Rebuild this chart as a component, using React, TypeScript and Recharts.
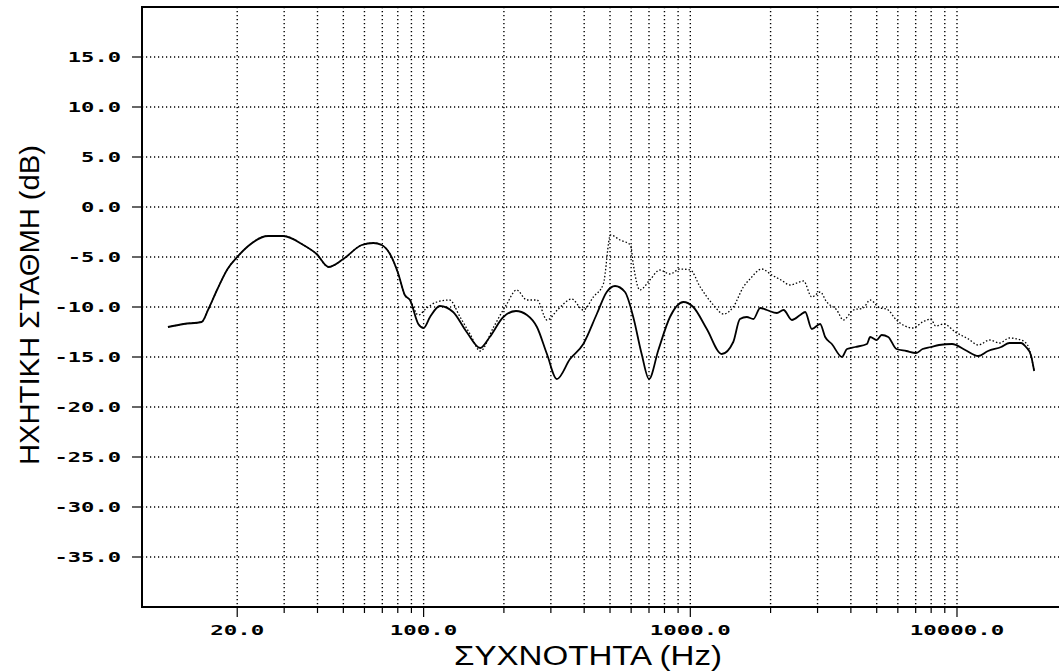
import { LineChart, Line, XAxis, YAxis, CartesianGrid, ReferenceArea } from "recharts";

// frequency response readings (Hz, dB)
const solidFreq = [
  11, 12.6, 14.7, 15.6, 16.8, 18.4, 20, 22, 26.1, 29.8, 35.4, 39.7, 44, 50, 58.6, 64.8, 69.6, 74.8,
  80.4, 85, 88.9, 95.5, 100, 105.7, 115, 129, 145, 163, 177, 199, 222, 244, 266, 290, 316, 354, 397,
  446, 486, 522, 569, 611, 657, 700, 759, 839, 942, 1026, 1153, 1312, 1449, 1535, 1628, 1724, 1828,
  1936, 2112, 2236, 2405, 2583, 2696, 2855, 3068, 3204, 3394, 3705, 3868, 4154, 4595, 4726, 4999,
  5218, 5523, 5928, 6455, 7026, 7432, 7976, 8566, 9587, 10735, 12020, 13076, 14640, 15727, 17381,
  18140, 18921, 19470,
];
const solidDb = [
  -12.0, -11.7, -11.5, -10.2, -8.3, -6.2, -5.0, -3.9, -2.9, -2.9, -3.8, -4.7, -6.0, -5.2, -3.8, -3.6, -3.8, -4.7,
  -6.7, -8.8, -9.3, -11.7, -12.1, -11.0, -9.9, -10.5, -12.5, -14.1, -13.0, -11.0, -10.4, -10.8, -12.0, -14.7, -17.2, -15.2, -13.7,
  -10.7, -8.5, -7.9, -8.5, -11.0, -14.7, -17.2, -14.3, -11.0, -9.5, -10.0, -12.2, -14.7, -13.5, -11.2, -11.0, -11.2, -10.1,
  -10.3, -10.6, -10.3, -11.3, -10.8, -10.5, -12.2, -11.7, -13.0, -13.7, -15.0, -14.2, -14.0, -13.7, -13.0, -13.3,
  -12.8, -13.0, -14.2, -14.4, -14.6, -14.2, -14.0, -13.8, -13.7, -14.3, -14.9, -14.4, -14.0, -13.6, -13.6,
  -14.0, -14.8, -16.4,
];

const dottedFreq = [
  11, 12.6, 14.7, 15.6, 16.8, 18.4, 20, 22, 26.1, 29.8, 35.4, 39.7, 44, 50, 58.6, 64.8, 69.6, 74.8,
  80.4, 85, 88.9, 95.5, 102.7, 112, 125, 137, 150, 163, 183, 205, 223, 244, 266, 290, 320, 359, 397,
  433, 472, 502, 545, 597, 611, 647, 705, 768, 839, 913, 1000, 1089, 1221, 1333, 1449, 1581, 1674,
  1855, 2020, 2188, 2368, 2658, 2855, 3068, 3247, 3541, 3749, 4087, 4452, 4726, 5139, 5450, 5928,
  6828, 7432, 7976, 8324, 8939, 9852, 11040, 12020, 13270, 14430, 15727, 17381, 18390, 18921, 19470,
];
const dottedDb = [
  -12.0, -11.7, -11.5, -10.2, -8.3, -6.2, -5.0, -3.9, -2.9, -2.9, -3.8, -4.7, -6.0, -5.2, -3.8, -3.6, -3.8, -4.7,
  -6.7, -8.8, -9.3, -10.8, -10.1, -9.5, -9.3, -11.0, -12.8, -14.4, -12.0, -9.7, -8.3, -9.3, -9.3, -11.3, -10.2, -9.2, -10.3,
  -9.0, -7.7, -2.8, -3.3, -3.8, -5.7, -8.3, -7.3, -6.3, -6.7, -6.2, -6.3, -8.0, -9.8, -10.7, -10.0, -8.0, -7.2,
  -6.2, -6.8, -7.3, -7.8, -7.4, -9.0, -8.5, -9.5, -10.3, -11.3, -10.3, -10.1, -9.3, -10.1, -10.2, -11.3,
  -12.1, -11.5, -11.2, -11.9, -11.7, -12.5, -13.2, -13.8, -13.3, -13.6, -13.1, -13.3, -13.8, -14.8, -16.4,
];

const xTicks = [
  20, 30, 40, 50, 60, 70, 80, 90, 100, 200, 300, 400, 500, 600, 700, 800, 900, 1000,
  2000, 3000, 4000, 5000, 6000, 7000, 8000, 9000, 10000,
];
const xLabels = [20, 100, 1000, 10000];
const yTicks = [15, 10, 5, 0, -5, -10, -15, -20, -25, -30, -35];

const xDomain = [8.79, 24760];
const yDomain = [-40, 20];

const solidData = solidFreq.map((f, i) => ({ f, db: solidDb[i] }));
const dottedData = dottedFreq.map((f, i) => ({ f, db: dottedDb[i] }));

const tickFont = {
  fontFamily: "'DejaVu Sans Mono', monospace",
  fontWeight: 700,
  fontSize: 14,
};

function XTick({ x, y, payload }: any) {
  const v = payload.value;
  const major = xLabels.includes(v);
  const label = v.toFixed(1);
  return (
    <g>
      <line x1={x} x2={x} y1={y} y2={y + (major ? 10 : 6)} stroke="#000" strokeWidth={1.2} />
      {major && (
        <text
          x={x}
          y={y + 28}
          textAnchor="middle"
          fill="#000"
          {...tickFont}
          textLength={label.length * 13.5}
          lengthAdjust="spacingAndGlyphs"
        >
          {label}
        </text>
      )}
    </g>
  );
}

function YTick({ x, y, payload }: any) {
  const label = payload.value.toFixed(1);
  return (
    <g>
      <line x1={x - 10} x2={x} y1={y} y2={y} stroke="#000" strokeWidth={1.2} />
      <text
        x={x - 21}
        y={y + 5}
        textAnchor="end"
        fill="#000"
        {...tickFont}
        textLength={label.length * 13.3}
        lengthAdjust="spacingAndGlyphs"
      >
        {label}
      </text>
    </g>
  );
}

export default function App() {
  return (
    <div
      style={{
        position: "fixed",
        left: 0,
        top: 0,
        width: 1059,
        height: 671,
        overflow: "hidden",
        background: "#fff",
      }}
    >
      <LineChart width={1075} height={671} margin={{ top: 7, right: 13, bottom: 0, left: 0 }}>
        <CartesianGrid stroke="#000" strokeWidth={1.4} strokeDasharray="1.2 2.8" />
        <XAxis
          dataKey="f"
          type="number"
          scale="log"
          domain={xDomain}
          allowDataOverflow
          ticks={xTicks}
          interval={0}
          height={64}
          tickSize={0}
          tickMargin={0}
          tickLine={false}
          axisLine={false}
          tick={<XTick />}
        />
        <YAxis
          type="number"
          domain={yDomain}
          ticks={yTicks}
          interval={0}
          width={142}
          tickSize={0}
          tickMargin={0}
          tickLine={false}
          axisLine={false}
          tick={<YTick />}
        />
        <ReferenceArea
          x1={xDomain[0]}
          x2={xDomain[1]}
          y1={yDomain[0]}
          y2={yDomain[1]}
          fill="none"
          stroke="#000"
          strokeWidth={2}
          ifOverflow="visible"
        />
        <Line
          data={dottedData}
          dataKey="db"
          type="monotone"
          stroke="#000"
          strokeWidth={1.3}
          strokeDasharray="1.5 2"
          dot={false}
          activeDot={false}
          isAnimationActive={false}
        />
        <Line
          data={solidData}
          dataKey="db"
          type="monotone"
          stroke="#000"
          strokeWidth={1.8}
          dot={false}
          activeDot={false}
          isAnimationActive={false}
        />
      </LineChart>
      <svg
        width={1059}
        height={671}
        style={{ position: "absolute", left: 0, top: 0, pointerEvents: "none" }}
      >
        <text
          x={588}
          y={665}
          textAnchor="middle"
          fontFamily="'Liberation Sans', Arial, sans-serif"
          fontSize={27}
          fill="#000"
          textLength={268}
          lengthAdjust="spacingAndGlyphs"
        >
          ΣΥΧΝΟΤΗΤΑ (Hz)
        </text>
        <text
          transform="translate(39 305) rotate(-90)"
          textAnchor="middle"
          fontFamily="'Liberation Sans', Arial, sans-serif"
          fontSize={27}
          fill="#000"
          textLength={320}
          lengthAdjust="spacingAndGlyphs"
        >
          ΗΧΗΤΙΚΗ ΣΤΑΘΜΗ (dB)
        </text>
      </svg>
    </div>
  );
}
